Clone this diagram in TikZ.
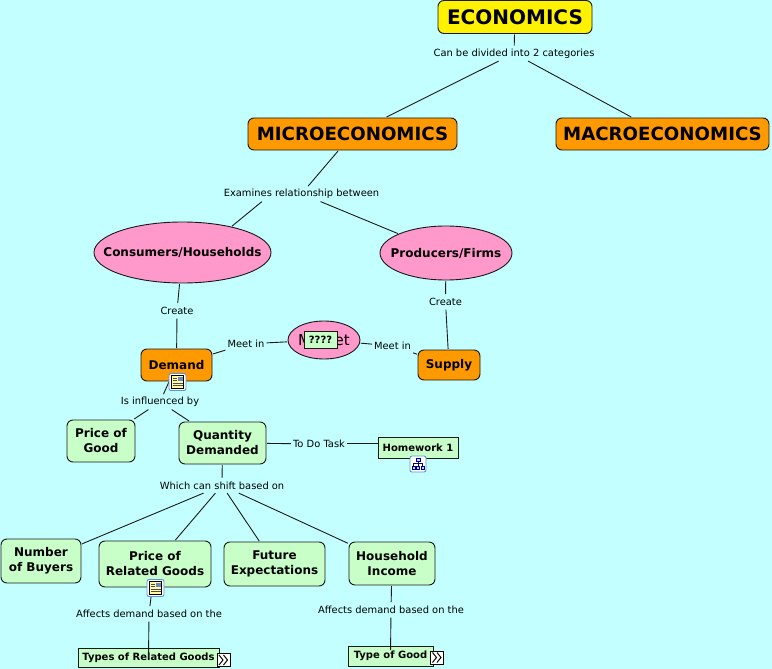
\documentclass[tikz,border=0pt]{standalone}
\usepackage{fontspec}
\setmainfont{DejaVu Sans}
\usetikzlibrary{shapes,positioning}

\definecolor{mapbg}{RGB}{196,255,255}
\definecolor{maporange}{RGB}{255,153,0}
\definecolor{mappink}{RGB}{255,153,204}
\definecolor{mapgreen}{RGB}{200,255,200}
\definecolor{iconblue}{RGB}{90,145,225}

\tikzset{
  concept/.style={draw=black!90, line width=0.9pt, rounded corners=6pt, align=center, font=\bfseries, outer sep=1pt},
  topbox/.style={concept, fill=yellow, font=\bfseries\fontsize{20}{23}\selectfont, minimum width=154pt, minimum height=33pt},
  bigbox/.style={concept, fill=maporange, font=\bfseries\fontsize{18.2}{21}\selectfont, minimum height=32pt},
  midbox/.style={concept, fill=maporange, font=\bfseries\fontsize{12}{15}\selectfont, inner sep=0pt},
  oval/.style={ellipse, draw=black!90, line width=0.9pt, fill=mappink, inner sep=0pt, font=\bfseries\fontsize{12}{15}\selectfont, outer sep=1pt},
  leaf/.style={concept, fill=mapgreen, font=\bfseries\fontsize{12}{15}\selectfont, inner sep=0pt},
  resbox/.style={draw=black!90, line width=0.9pt, fill=mapgreen, inner sep=0pt, font=\bfseries\fontsize{10}{12}\selectfont},
  linkword/.style={font=\fontsize{9.9}{12}\selectfont, inner xsep=2pt, inner ysep=0pt, minimum height=15pt, yshift=-0.4pt},
  link/.style={draw=black!90, line width=0.9pt}
}

% small icons
\newcommand{\noteicon}[1]{
  \begin{scope}[shift={(#1)}]
    \draw[iconblue, fill=white, line width=0.9pt, rounded corners=2pt] (-8.5,-8.5) rectangle (8.5,8.5);
    \draw[black, fill=yellow!35, line width=0.5pt] (-6,-6.5) rectangle (6,6.5);
    \fill[iconblue!60!gray] (0.5,-5.5) rectangle (5,-1);
    \foreach \ypos in {-4,-1.5,1,3.5} \draw[black!70, line width=0.4pt] (-5,\ypos) -- (\ifdim\ypos pt<-0.5pt -0.5\else 5\fi,\ypos);
  \end{scope}
}
\newcommand{\treeicon}[1]{
  \begin{scope}[shift={(#1)}]
    \draw[iconblue, fill=white, line width=0.9pt, rounded corners=2pt] (-8,-8) rectangle (8,8);
    \draw[blue!50!black, fill=iconblue!40, line width=0.5pt] (-2,-6) rectangle (2,-3) (-6,2) rectangle (-3,5) (3,2) rectangle (6,5) (-1.5,2) rectangle (1.5,5);
    \draw[blue!50!black, line width=0.5pt] (0,-3) -- (0,2) (-4.5,2) -- (-4.5,-0.5) -- (4.5,-0.5) -- (4.5,2);
  \end{scope}
}
\newcommand{\moreicon}[1]{
  \begin{scope}[shift={(#1)}]
    \draw[black, fill=white, line width=0.6pt] (-6.5,-6.5) rectangle (6.5,6.5);
    \draw[black, line width=1pt] (-4.5,-5) -- (-0.5,0) -- (-4.5,5) (0,-5) -- (4,0) -- (0,5);
  \end{scope}
}

\begin{document}
\begin{tikzpicture}[x=1pt,y=-1pt]
  \fill[mapbg] (0,0) rectangle (772,669);
  \useasboundingbox (0,0) rectangle (772,669);

  % Concepts
  \node[topbox] (economics) at (515,17) {ECONOMICS};
  \node[bigbox, minimum width=209pt] (micro) at (352.5,134) {MICROECONOMICS};
  \node[bigbox, minimum width=213pt] (macro) at (662.5,134) {MACROECONOMICS};
  \node[oval, minimum width=177pt, minimum height=61pt] (consumers) at (182.5,252.5) {\makebox[0pt]{Consumers/Households}};
  \node[oval, minimum width=132pt, minimum height=54pt] (producers) at (446,253) {\makebox[0pt]{Producers/Firms}};
  \node[midbox, minimum width=71pt, minimum height=32pt] (demand) at (176.5,365) {Demand};
  \node[oval, minimum width=72pt, minimum height=38pt, font=\fontsize{15}{17}\selectfont] (market) at (324,340) {\makebox[0pt]{Market}};
  \node[midbox, minimum width=62pt, minimum height=30pt] (supply) at (449,365) {Supply};
  \node[resbox, minimum width=33pt, minimum height=17pt] (unknown) at (320.5,339.5) {????};
  \node[leaf, minimum width=68pt, minimum height=42pt] (priceofgood) at (101,441) {Price of\\Good};
  \node[leaf, minimum width=87pt, minimum height=42pt] (quantity) at (222.5,443) {Quantity\\Demanded};
  \node[resbox, minimum width=80pt, minimum height=21pt] (homework) at (418,448) {Homework 1};
  \node[leaf, minimum width=80pt, minimum height=44pt] (buyers) at (41,561) {Number\\of Buyers};
  \node[leaf, minimum width=112pt, minimum height=46pt] (related) at (155,564) {Price of\\Related Goods};
  \node[leaf, minimum width=101pt, minimum height=44pt] (future) at (274.5,564) {Future\\Expectations};
  \node[leaf, minimum width=86pt, minimum height=43pt] (income) at (392,563.5) {Household\\Income};
  \node[resbox, minimum width=141pt, minimum height=19pt] (typesrelated) at (148.5,658) {Types of Related Goods};
  \node[resbox, minimum width=85pt, minimum height=20pt] (typegood) at (390.5,656) {Type of Good};

  % Linking words
  \node[linkword] (divided) at (514,53) {Can be divided into 2 categories};
  \node[linkword] (examines) at (301.5,193.5) {Examines relationship between};
  \node[linkword] (create1) at (177,310.5) {Create};
  \node[linkword] (create2) at (445.5,301.5) {Create};
  \node[linkword] (meetin1) at (246,343.5) {Meet in};
  \node[linkword] (meetin2) at (392.5,345.5) {Meet in};
  \node[linkword] (influenced) at (160,401.5) {Is influenced by};
  \node[linkword] (todo) at (319,443.5) {To Do Task};
  \node[linkword] (shift) at (222,485) {Which can shift based on};
  \node[linkword] (affects1) at (149,613.5) {Affects demand based on the};
  \node[linkword] (affects2) at (391,609.5) {Affects demand based on the};

  % Connectors
  \draw[link] (economics) -- (divided);
  \draw[link] (divided) -- (micro);
  \draw[link] (divided) -- (macro);
  \draw[link] (micro) -- (examines);
  \draw[link] (examines.191) -- (consumers.28);
  \draw[link] (examines.338) -- (producers.158);
  \draw[link] (consumers) -- (create1);
  \draw[link] (create1) -- (demand);
  \draw[link] (producers) -- (create2);
  \draw[link] (create2) -- (supply);
  \draw[link] (demand) -- (meetin1);
  \draw[link] (meetin1) -- (market);
  \draw[link] (market) -- (meetin2);
  \draw[link] (meetin2) -- (supply);
  \draw[link] (demand) -- (influenced);
  \draw[link] (influenced) -- (priceofgood);
  \draw[link] (influenced) -- (quantity);
  \draw[link] (quantity) -- (todo);
  \draw[link] (todo.east) -- (todo.east -| homework.west);
  \draw[link] (quantity) -- (shift);
  \draw[link] (shift) -- (buyers);
  \draw[link] (shift) -- (related);
  \draw[link] (shift) -- (future);
  \draw[link] (shift) -- (income);
  \draw[link] (related) -- (affects1);
  \draw[link] (affects2) -- (income);
  \draw[link] (affects1) -- (typesrelated.center);
  \draw[link, shorten >=6pt] (affects2) -- (typegood.center);

  % Icons
  \noteicon{177.5,382}
  \noteicon{155.5,588}
  \treeicon{418,464}
  \moreicon{223.5,660}
  \moreicon{437,657.5}
\end{tikzpicture}
\end{document}
